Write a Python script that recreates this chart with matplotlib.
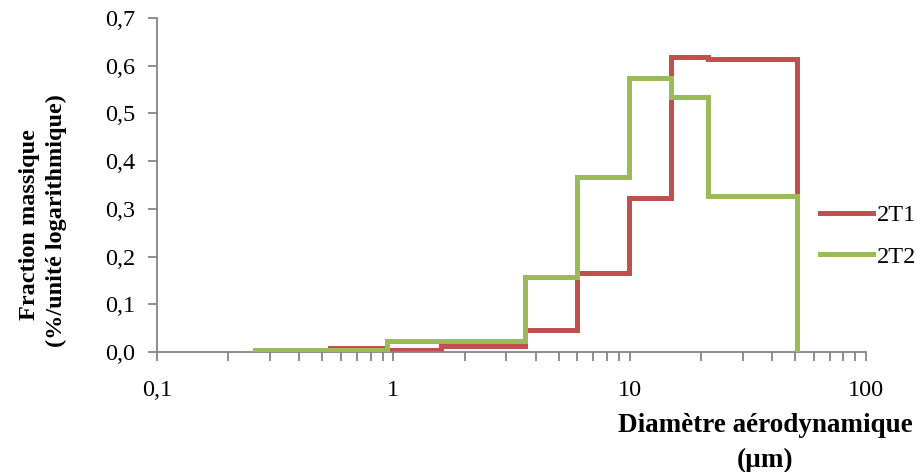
import matplotlib.pyplot as plt
import numpy as np

# bin edges (um) and step values
edges_2t1 = [0.26, 0.54, 0.94, 1.59, 3.6, 6.0, 9.9, 14.9, 21.5, 50.9]
vals_2t1 = [0.004, 0.009, 0.004, 0.012, 0.046, 0.166, 0.323, 0.618, 0.614]

edges_2t2 = [0.26, 0.94, 3.6, 6.0, 9.9, 14.9, 21.5, 50.9]
vals_2t2 = [0.005, 0.024, 0.157, 0.367, 0.574, 0.534, 0.326]

yticks = [0.0, 0.1, 0.2, 0.3, 0.4, 0.5, 0.6, 0.7]
xticks = [0.1, 1, 10, 100]
xticklabels = ['0,1', '1', '10', '100']

RED = '#C0504D'
GREEN = '#9BBB59'
AXCOL = '#868686'

plt.rcParams['font.family'] = ['Liberation Serif', 'DejaVu Serif']


def step_xy(edges, vals):
    x, y = [], []
    for i, v in enumerate(vals):
        x += [edges[i], edges[i + 1]]
        y += [v, v]
    x.append(edges[-1])
    y.append(0)
    return x, y


fig = plt.figure(figsize=(9.21, 4.72), dpi=100)
ax = fig.add_axes([0.1705, 0.2542, 0.7700, 0.7077])

x1, y1 = step_xy(edges_2t1, vals_2t1)
x2, y2 = step_xy(edges_2t2, vals_2t2)
ax.plot(x1, y1, color=RED, lw=3.6, label='2T1', solid_joinstyle='miter', zorder=2)
ax.plot(x2, y2, color=GREEN, lw=3.6, label='2T2', solid_joinstyle='miter', zorder=3)

ax.set_xscale('log')
ax.set_xlim(0.1, 100)
ax.set_ylim(0, 0.7)
ax.set_xticks(xticks)
ax.set_xticklabels(xticklabels)
ax.set_yticks(yticks)
ax.set_yticklabels([f'{t:.1f}'.replace('.', ',') for t in yticks])

for s in ['top', 'right']:
    ax.spines[s].set_visible(False)
for s in ['left', 'bottom']:
    ax.spines[s].set_color(AXCOL)
    ax.spines[s].set_linewidth(1.3)

ax.tick_params(axis='both', which='both', color=AXCOL, width=1.3, length=6.5,
               labelsize=17.5, direction='out')
ax.tick_params(axis='x', pad=14)
ax.tick_params(axis='y', pad=9)

# axis titles
fig.text(30 / 921, 1 - 225 / 472, 'Fraction massique', rotation=90,
         ha='center', va='center', fontsize=17.5, fontweight='bold')
fig.text(56 / 921, 1 - 221 / 472, '(%/unité logarithmique)', rotation=90,
         ha='center', va='center', fontsize=17.5, fontweight='bold')
fig.text(765 / 921, 1 - 425 / 472, 'Diamètre aérodynamique',
         ha='center', va='center', fontsize=19.5, fontweight='bold')
fig.text(765 / 921, 1 - 460 / 472, '(µm)',
         ha='center', va='center', fontsize=19.5, fontweight='bold')

ax.legend(loc='center left', bbox_to_anchor=(820 / 921, 1 - 236 / 472),
          bbox_transform=fig.transFigure, frameon=False, borderpad=0,
          borderaxespad=0, fontsize=17.5, handlelength=2.2,
          handletextpad=0.12, labelspacing=0.8)

fig.savefig('out.png', dpi=100)
